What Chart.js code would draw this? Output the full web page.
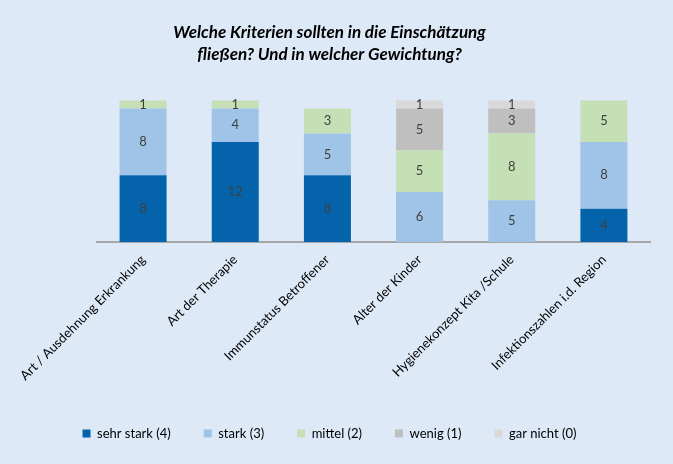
<!DOCTYPE html>
<html>
<head>
<meta charset="utf-8">
<script src="https://cdn.jsdelivr.net/npm/chart.js@4/dist/chart.umd.min.js"></script>
<style>
  html, body { margin: 0; padding: 0; background: #dde9f7; }
  #wrap { width: 673px; height: 464px; }
</style>
</head>
<body>
<div id="wrap"><canvas id="c" width="673" height="464"></canvas></div>
<script>
// ── DATA ──
const categories = [
  'Art / Ausdehnung Erkrankung',
  'Art der Therapie',
  'Immunstatus Betroffener',
  'Alter der Kinder',
  'Hygienekonzept Kita /Schule',
  'Infektionszahlen i.d. Region'
];
const seriesNames = ['sehr stark (4)', 'stark (3)', 'mittel (2)', 'wenig (1)', 'gar nicht (0)'];
const sehrStark = [8, 12, 8, 0, 0, 4];
const stark     = [8, 4, 5, 6, 5, 8];
const mittel    = [1, 1, 3, 5, 8, 5];
const wenig     = [0, 0, 0, 5, 3, 0];
const garNicht  = [0, 0, 0, 1, 1, 0];
const colors = ['#0563ab', '#9fc4e7', '#c5e0b4', '#bfbfbf', '#d9d9d9'];

const FONT = 'Lato, "Open Sans", sans-serif';

// ── VALUE LABELS INSIDE BARS ──
const valueLabels = {
  id: 'valueLabels',
  afterDatasetsDraw(chart) {
    const ctx = chart.ctx;
    ctx.save();
    ctx.font = '13px ' + FONT;
    ctx.fillStyle = '#404040';
    ctx.textAlign = 'center';
    ctx.textBaseline = 'middle';
    chart.data.datasets.forEach((ds, i) => {
      chart.getDatasetMeta(i).data.forEach((bar, j) => {
        const v = ds.data[j];
        if (!v) return;
        const p = bar.getCenterPoint();
        ctx.fillText(v, p.x, p.y);
      });
    });
    ctx.restore();
  }
};

const toNull = arr => arr.map(v => v === 0 ? null : v);

new Chart(document.getElementById('c'), {
  type: 'bar',
  data: {
    labels: categories,
    datasets: [sehrStark, stark, mittel, wenig, garNicht].map((d, i) => ({
      label: seriesNames[i],
      data: toNull(d),
      backgroundColor: colors[i],
      borderWidth: 0,
      categoryPercentage: 1,
      barPercentage: 0.51
    }))
  },
  options: {
    responsive: false,
    animation: false,
    layout: { padding: { left: 0, right: 14, top: 0, bottom: 14 } },
    plugins: {
      title: {
        display: true,
        text: ['Welche Kriterien sollten in die Einschätzung', 'fließen? Und in welcher Gewichtung?'],
        color: '#000',
        font: { family: FONT, size: 17, weight: 'bold', style: 'italic', lineHeight: 1.3 },
        padding: { top: 21, bottom: 35 }
      },
      legend: {
        position: 'bottom',
        labels: {
          boxWidth: 8, boxHeight: 8, padding: 33,
          color: '#000',
          font: { family: FONT, size: 13 }
        }
      },
      tooltip: { enabled: false }
    },
    scales: {
      x: {
        stacked: true,
        grid: { display: false, drawTicks: false },
        border: { display: true, color: '#a6a6a6', width: 2 },
        ticks: {
          color: '#000', font: { family: FONT, size: 13 },
          maxRotation: 45, minRotation: 45, padding: 10
        },
        afterFit(scale) { scale.height = 152; }
      },
      y: {
        stacked: true, min: 0, max: 17,
        grid: { display: false }, border: { display: false },
        ticks: { display: false },
        afterFit(scale) { scale.width = 97; }
      },
      yr: {
        position: 'right',
        grid: { display: false }, border: { display: false },
        ticks: { display: false },
        afterFit(scale) { scale.width = 9; }
      }
    }
  },
  plugins: [valueLabels]
});
</script>
</body>
</html>
